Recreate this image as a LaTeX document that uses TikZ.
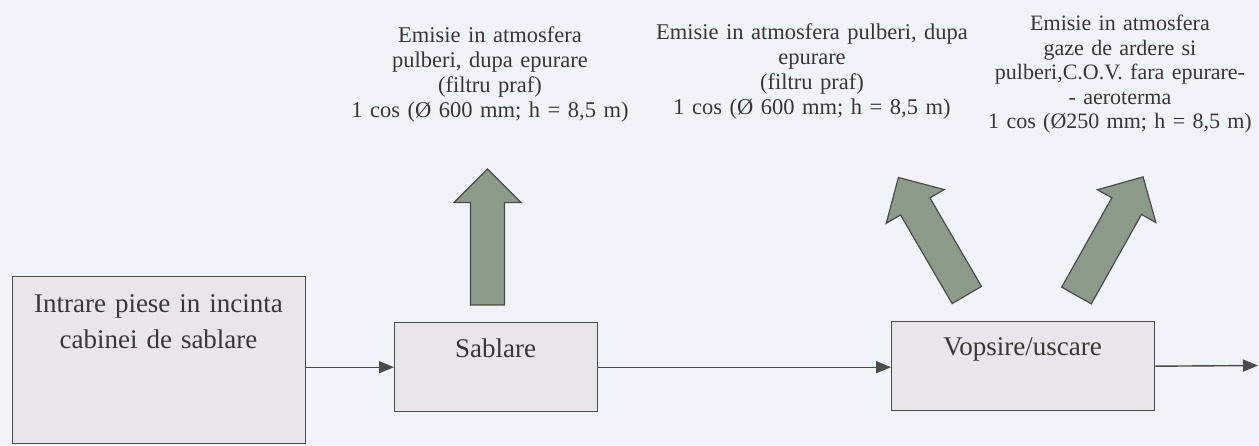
\documentclass[tikz,border=0pt]{standalone}
\usepackage{fontspec}
\setmainfont{Liberation Serif}
\usetikzlibrary{arrows.meta}
\definecolor{bgcol}{RGB}{240,243,249}
\definecolor{boxfill}{RGB}{233,229,237}
\definecolor{boxline}{RGB}{75,75,75}
\definecolor{arrfill}{RGB}{140,154,138}
\definecolor{txtcol}{RGB}{55,55,55}
\tikzset{
  procbox/.style={draw=boxline, line width=1.4pt, fill=boxfill, inner sep=0pt, anchor=north west},
  boxtext/.style={font=\fontsize{27}{35}\selectfont, text=txtcol, anchor=base, inner sep=0pt, text width=290pt, align=center},
  emtext/.style={font=\fontsize{22.5}{25}\selectfont, text=txtcol, anchor=base, inner sep=0pt, text width=330pt, align=center},
  flow/.style={draw=boxline, line width=1.4pt, -{Triangle[length=15pt,width=12pt]}},
  blockarrow/.style={draw=boxline, line width=1.2pt, fill=arrfill, line join=miter},
  emarrow/.pic={\path[blockarrow] (0,-17) -- (102.5,-17) -- (102.5,-33.5) -- (136,0) -- (102.5,33.5) -- (102.5,17) -- (0,17) -- cycle;}
}
\begin{document}
\begin{tikzpicture}[x=1pt,y=1pt]
\useasboundingbox (0,0) rectangle (1259,445);
\fill[bgcol] (0,0) rectangle (1259,445);
% process boxes
\node[procbox, minimum width=293pt, minimum height=167pt] (intrare) at (12,169) {};
\node[procbox, minimum width=203pt, minimum height=89pt] (sablare) at (394,123) {};
\node[procbox, minimum width=263pt, minimum height=89pt] (vopsire) at (891,124) {};
% box texts
\node[boxtext] (tintrare) at (158.5,132) {Intrare piese in incinta\\cabinei de sablare};
\node[boxtext] (tsablare) at (495.5,88) {Sablare};
\node[boxtext] (tvopsire) at (1022.5,90) {Vopsire/uscare};
% flow connectors
\coordinate (out) at (1258,79.5);
\draw[flow] (intrare.east |- sablare.west) -- (sablare.west);
\draw[flow] (sablare.east) -- (vopsire.west |- sablare.east);
\draw[flow] (vopsire.east) -- (out);
% emission arrows
\pic[rotate=90] at (487.5,140) {emarrow};
\pic[rotate=120.2] at (966.8,150) {emarrow};
\pic[rotate=60.7] at (1076.5,149.5) {emarrow};
% emission texts
\node[emtext] (em1) at (490,402) {Emisie in atmosfera\\pulberi, dupa epurare\\(filtru praf)\\1 cos (Ø 600 mm; h = 8,5 m)};
\node[emtext] (em2) at (812,405) {Emisie in atmosfera pulberi, dupa\\epurare\\(filtru praf)\\1 cos (Ø 600 mm; h = 8,5 m)};
\node[emtext, font=\fontsize{22}{24.5}\selectfont] (em3) at (1120,414) {Emisie in atmosfera\\gaze de ardere si\\pulberi,C.O.V. fara epurare-\\- aeroterma\\1 cos (Ø250 mm; h = 8,5 m)};
\end{tikzpicture}
\end{document}
